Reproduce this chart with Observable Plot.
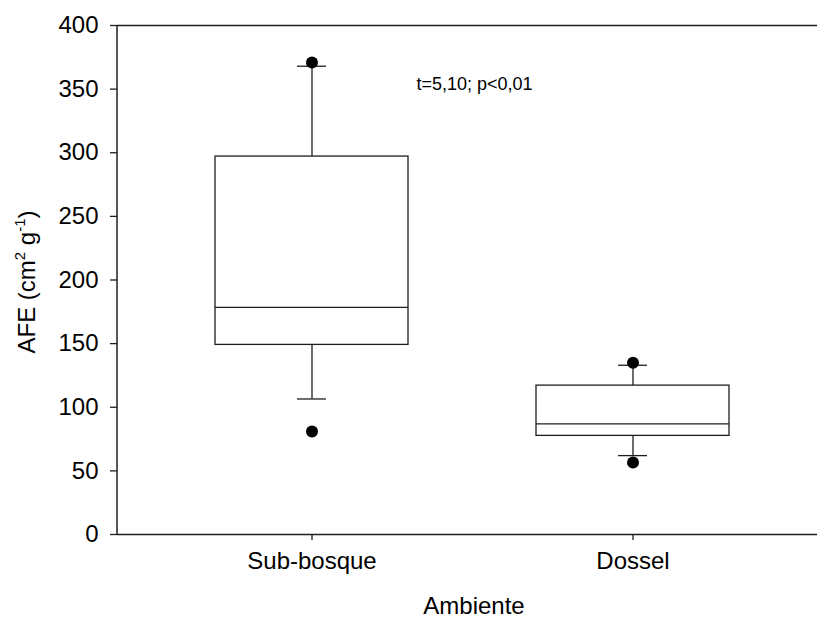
<!DOCTYPE html>
<html>
<head>
<meta charset="utf-8">
<script src="https://cdn.jsdelivr.net/npm/d3@7"></script>
<script src="https://cdn.jsdelivr.net/npm/@observablehq/plot@0.6"></script>
<style>
  body { margin: 0; background: #fff; overflow: hidden; }
  svg { font-family: "Liberation Sans", Arial, sans-serif; }
</style>
</head>
<body>
<div id="chart"></div>
<script>
// Área foliar específica (AFE) por ambiente: resumo dos boxplots
const ambientes = ["Sub-bosque", "Dossel"];
const q1 = [149, 77.5];
const medianas = [178.5, 87];
const q3 = [297, 117];
const bigodeInf = [106.5, 62];
const bigodeSup = [368, 133];

// Valores extremos (pontos)
const extremosAmbiente = ["Sub-bosque", "Sub-bosque", "Dossel", "Dossel"];
const extremosValor = [371, 81, 135, 56.5];

const yTicks = [0, 50, 100, 150, 200, 250, 300, 350, 400];
const anotacao = "t=5,10; p<0,01";

const caixas = ambientes.map((a, i) => ({
  ambiente: a, q1: q1[i], mediana: medianas[i], q3: q3[i],
  inf: bigodeInf[i], sup: bigodeSup[i]
}));
const pontos = extremosAmbiente.map((a, i) => ({ambiente: a, valor: extremosValor[i]}));

const cor = "#1e1e1e";
const capInset = 82;

const plot = Plot.plot({
  width: 817,
  height: 619,
  marginLeft: 117,
  marginRight: 0,
  marginTop: 25,
  marginBottom: 85,
  style: {fontFamily: '"Liberation Sans", Arial, sans-serif', fontSize: "24px", color: "#000", background: "#fff"},
  x: {type: "band", domain: ambientes, paddingInner: 0.4, paddingOuter: 0.287, align: 0.525, label: null},
  y: {domain: [0, 400], label: null},
  marks: [
    Plot.axisY({ticks: yTicks, tickSize: 7, tickPadding: 12, label: null, stroke: cor, strokeWidth: 1.3}),
    Plot.axisX({tickSize: 6, tickPadding: 11, label: null, stroke: cor, strokeWidth: 1.3}),
    Plot.ruleY([0, 400], {stroke: cor, strokeWidth: 1.5, insetRight: -4}),
    Plot.ruleX(caixas, {x: "ambiente", y1: "q3", y2: "sup", stroke: cor, strokeWidth: 1.3}),
    Plot.ruleX(caixas, {x: "ambiente", y1: "q1", y2: "inf", stroke: cor, strokeWidth: 1.3}),
    Plot.tickY(caixas, {x: "ambiente", y: "sup", insetLeft: capInset, insetRight: capInset, stroke: cor, strokeWidth: 1.3}),
    Plot.tickY(caixas, {x: "ambiente", y: "inf", insetLeft: capInset, insetRight: capInset, stroke: cor, strokeWidth: 1.3}),
    Plot.barY(caixas, {x: "ambiente", y1: "q1", y2: "q3", fill: "white", stroke: cor, strokeWidth: 1.3}),
    Plot.tickY(caixas, {x: "ambiente", y: "mediana", stroke: cor, strokeWidth: 1.3}),
    Plot.dot(pontos, {x: "ambiente", y: "valor", r: 6, fill: "#000", stroke: "none"}),
    Plot.text([anotacao], {frameAnchor: "top-left", dx: 299, dy: 59, textAnchor: "start", lineAnchor: "middle", fontSize: 18, fill: "#000"})
  ]
});

const svg = d3.select(plot);

// Linha do eixo y, na borda esquerda da área de plotagem
const yRange = plot.scale("y").range;
svg.append("line")
  .attr("x1", 117).attr("x2", 117)
  .attr("y1", yRange[0]).attr("y2", yRange[1])
  .attr("stroke", cor).attr("stroke-width", 1.5);

// Títulos dos eixos
const yl = svg.append("text")
  .attr("transform", "translate(35,282) rotate(-90)")
  .attr("text-anchor", "middle")
  .attr("font-size", 24)
  .attr("fill", "#000");
yl.append("tspan").text("AFE (cm");
yl.append("tspan").attr("font-size", 15).attr("dy", -10).text("2");
yl.append("tspan").attr("dy", 10).text(" g");
yl.append("tspan").attr("font-size", 15).attr("dy", -10).text("-1");
yl.append("tspan").attr("dy", 10).text(")");

svg.append("text")
  .attr("x", 474)
  .attr("y", 614)
  .attr("text-anchor", "middle")
  .attr("font-size", 24)
  .attr("fill", "#000")
  .text("Ambiente");

document.getElementById("chart").appendChild(plot);
</script>
</body>
</html>
